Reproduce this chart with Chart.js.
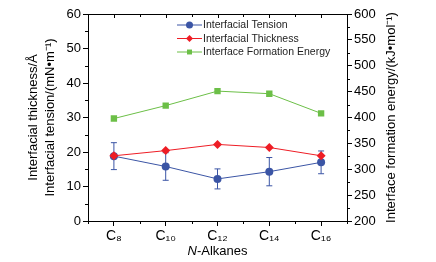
<!DOCTYPE html>
<html>
<head>
<meta charset="utf-8">
<script src="https://cdn.jsdelivr.net/npm/chart.js@4"></script>
<style>
  html, body { margin: 0; background: #fff; }
  #wrap { width: 436px; height: 262px; }
</style>
</head>
<body>
<div id="wrap"><canvas id="chart"></canvas></div>
<script>
// values
const alkanes = ['C₈', 'C₁₀', 'C₁₂', 'C₁₄', 'C₁₆'];
const tension = [18.8, 15.8, 12.2, 14.3, 17.0];
const tensionErr = [3.9, 4.0, 2.9, 4.1, 3.3];
const thickness = [18.9, 20.4, 22.2, 21.3, 18.9];
const energy = [398, 423, 451, 446, 408];
const leftTicks = [0, 10, 20, 30, 40, 50, 60];
const rightTicks = [200, 250, 300, 350, 400, 450, 500, 550, 600];

const BLUE = '#3b55a5';
const RED = '#ee1d25';
const GREEN = '#6cbf47';
const FONT = 'Liberation Sans, Arial, sans-serif';

// error bars for the tension series
const errorBars = {
  id: 'errorBars',
  beforeDatasetsDraw(chart) {
    const ctx = chart.ctx, x = chart.scales.x, y = chart.scales.y;
    ctx.save();
    ctx.strokeStyle = BLUE;
    ctx.lineWidth = 1;
    tension.forEach((v, i) => {
      const px = x.getPixelForValue(i);
      const top = y.getPixelForValue(v + tensionErr[i]);
      const bot = y.getPixelForValue(v - tensionErr[i]);
      ctx.beginPath();
      ctx.moveTo(px, top); ctx.lineTo(px, bot);
      ctx.moveTo(px - 3, top); ctx.lineTo(px + 3, top);
      ctx.moveTo(px - 3, bot); ctx.lineTo(px + 3, bot);
      ctx.stroke();
    });
    ctx.restore();
  }
};

// frame, minor ticks, legend, x title and right title
const decor = {
  id: 'decor',
  afterDraw(chart) {
    const ctx = chart.ctx, a = chart.chartArea;
    const x = chart.scales.x, y = chart.scales.y, y2 = chart.scales.y2;
    ctx.save();
    ctx.strokeStyle = '#000';
    ctx.lineWidth = 1;
    ctx.beginPath();
    ctx.moveTo(a.left, a.top + 0.5); ctx.lineTo(a.right, a.top + 0.5);
    // top axis ticks, pointing in
    for (let i = 0; i < alkanes.length; i++) {
      const px = Math.round(x.getPixelForValue(i)) + 0.5;
      ctx.moveTo(px, a.top); ctx.lineTo(px, a.top + 4);
    }
    for (let i = 0; i <= alkanes.length; i++) {
      const px = Math.round(x.getPixelForValue(i - 0.5)) + 0.5;
      ctx.moveTo(px, a.top); ctx.lineTo(px, a.top + 3);
      ctx.moveTo(px, a.bottom); ctx.lineTo(px, a.bottom + 3);
    }
    for (let v = 5; v < 60; v += 10) {
      const py = Math.round(y.getPixelForValue(v)) + 0.5;
      ctx.moveTo(a.left, py); ctx.lineTo(a.left - 3, py);
    }
    for (let v = 225; v < 600; v += 50) {
      const py = Math.round(y2.getPixelForValue(v)) + 0.5;
      ctx.moveTo(a.right, py); ctx.lineTo(a.right + 3, py);
    }
    ctx.stroke();

    // legend
    const items = [
      ['Interfacial Tension', BLUE, 'circle'],
      ['Interfacial Thickness', RED, 'rectRot'],
      ['Interface Formation Energy', GREEN, 'rect']
    ];
    ctx.font = '10.5px ' + FONT;
    ctx.textBaseline = 'middle';
    items.forEach((it, i) => {
      const ly = 25 + i * 13.5;
      ctx.strokeStyle = it[1];
      ctx.lineWidth = 1;
      ctx.beginPath();
      ctx.moveTo(177, ly); ctx.lineTo(202, ly);
      ctx.stroke();
      ctx.fillStyle = it[1];
      Chart.helpers.drawPoint(ctx, { pointStyle: it[2], radius: 3.5, borderWidth: 0 }, 189.5, ly);
      ctx.fillStyle = '#222';
      ctx.fillText(it[0], 203, ly + 0.5);
    });

    // x title with italic N
    ctx.fillStyle = '#000';
    ctx.font = 'italic 13px ' + FONT;
    const wN = ctx.measureText('N').width;
    ctx.font = '13px ' + FONT;
    const wRest = ctx.measureText('-Alkanes').width;
    const cx = (a.left + a.right) / 2;
    const sx = cx - (wN + wRest) / 2;
    ctx.textAlign = 'left';
    ctx.font = 'italic 13px ' + FONT;
    ctx.fillText('N', sx, 251);
    ctx.font = '13px ' + FONT;
    ctx.fillText('-Alkanes', sx + wN, 251);

    // right axis title, reading bottom to top
    ctx.translate(391, (a.top + a.bottom) / 2);
    ctx.rotate(-Math.PI / 2);
    ctx.textAlign = 'center';
    ctx.font = '13px ' + FONT;
    ctx.fillText('Interface formation energy/(kJ•mol⁻¹)', 0, 0);
    ctx.restore();
  }
};

const tickFont = { family: FONT, size: 13 };

new Chart(document.getElementById('chart'), {
  type: 'line',
  data: {
    labels: alkanes,
    datasets: [
      {
        label: 'Interfacial Thickness', data: thickness, yAxisID: 'y', order: 0,
        borderColor: RED, backgroundColor: RED, borderWidth: 1,
        pointStyle: 'rectRot', pointRadius: 4.5, pointBorderWidth: 0
      },
      {
        label: 'Interfacial Tension', data: tension, yAxisID: 'y', order: 1,
        borderColor: BLUE, backgroundColor: BLUE, borderWidth: 1,
        pointStyle: 'circle', pointRadius: 4, pointBorderWidth: 0
      },
      {
        label: 'Interface Formation Energy', data: energy, yAxisID: 'y2', order: 2,
        borderColor: GREEN, backgroundColor: GREEN, borderWidth: 1,
        pointStyle: 'rect', pointRadius: 4.5, pointBorderWidth: 0
      }
    ]
  },
  options: {
    responsive: true,
    maintainAspectRatio: false,
    animation: false,
    layout: { padding: { top: 14, left: 0, right: 0, bottom: 0 } },
    plugins: { legend: { display: false }, tooltip: { enabled: false } },
    scales: {
      x: {
        type: 'category',
        offset: true,
        grid: { display: true, drawOnChartArea: false, offset: false, tickLength: 5, color: '#000' },
        border: { color: '#000', width: 1 },
        ticks: { font: { family: FONT, size: 14 }, color: '#000', padding: 2, maxRotation: 0 },
        afterFit: s => { s.height = 41; }
      },
      y: {
        position: 'left',
        min: 0, max: 60,
        afterBuildTicks: s => { s.ticks = leftTicks.map(v => ({ value: v })); },
        grid: { display: true, drawOnChartArea: false, tickLength: 5, color: '#000' },
        border: { color: '#000', width: 1 },
        ticks: { font: tickFont, color: '#000', padding: 2 },
        title: {
          display: true,
          text: ['Interfacial thickness/Å', 'Interfacial tension/(mN•m⁻¹)'],
          font: { family: FONT, size: 13, lineHeight: 1.3 },
          color: '#000',
          padding: { top: 25, bottom: 0 }
        },
        afterFit: s => { s.width = 88; }
      },
      y2: {
        position: 'right',
        min: 200, max: 600,
        afterBuildTicks: s => { s.ticks = rightTicks.map(v => ({ value: v })); },
        grid: { display: true, drawOnChartArea: false, tickLength: 5, color: '#000' },
        border: { color: '#000', width: 1 },
        ticks: { font: tickFont, color: '#000', padding: 2 },
        afterFit: s => { s.width = 89; }
      }
    }
  },
  plugins: [errorBars, decor]
});
</script>
</body>
</html>
